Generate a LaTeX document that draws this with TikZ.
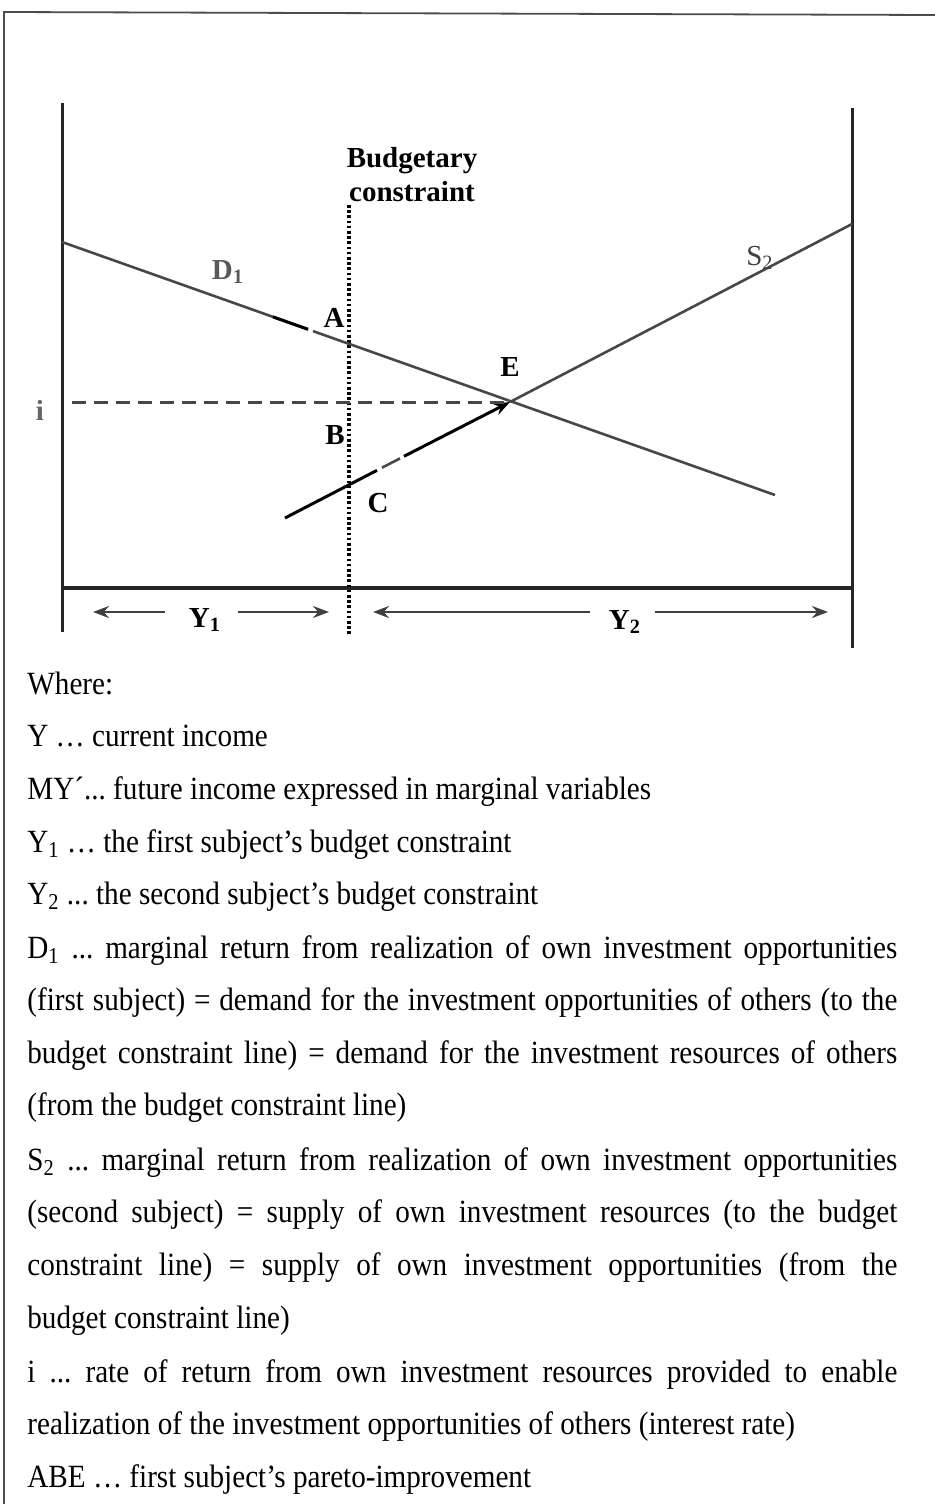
\documentclass[tikz,border=0pt]{standalone}
\usepackage{fontspec}
\setmainfont{Liberation Serif}
\newfontfamily\legendfont{Liberation Serif}[FakeStretch=0.9]
\usepackage{tikz}
\usetikzlibrary{arrows.meta}

\begin{document}
\begin{tikzpicture}[>={Stealth[length=8pt,width=6pt]}, x=0.5pt, y=-0.5pt,
    lab/.style={font=\fontsize{14.5}{17}\selectfont\bfseries, inner sep=0pt},
    legend/.style={anchor=base west, inner sep=0pt, font=\legendfont\fontsize{16.2}{19}\selectfont\frenchspacing},
    axis/.style={line width=1.5pt, draw=black!85},
    curve/.style={line width=1.3pt, draw=black!72},
    sizearrow/.style={->, line width=1.2pt, draw=black!75}]
  \useasboundingbox (0,0) rectangle (935,1504);
  % frame
  \draw[line width=0.9pt, black!70] (935,15) -- (4,12) -- (4,1504);

  % axes and budget line
  \coordinate (L0) at (62,103);  \coordinate (L1) at (62,632);
  \coordinate (R0) at (852,108); \coordinate (R1) at (852,648);
  \coordinate (H0) at (62,588);  \coordinate (H1) at (852,588);
  \coordinate (V0) at (349,205); \coordinate (V1) at (349,635);
  \draw[axis] (L0) -- (L1);
  \draw[axis] (R0) -- (R1);
  \draw[axis, line width=1.7pt] (H0) -- (H1);
  \draw[line width=1.6pt, dash pattern=on 1.3pt off 1.3pt] (V0) -- (V1);
  \node[lab, align=center] (budget) at (412,175) {Budgetary\\constraint};

  % curves
  \coordinate (E) at (510,402);
  \coordinate (D1a) at (62,242);  \coordinate (D1b) at (775,495);
  \coordinate (Dg0) at (308,329.3); \coordinate (Dg1) at (313,331.1);
  \coordinate (Dk) at (273,316.9);
  \coordinate (S2a) at (285,518); \coordinate (S2b) at (852,224);
  \coordinate (Sg0) at (377,470.3); \coordinate (Sg1) at (382,467.7);
  \coordinate (Sg2) at (400,458.4); \coordinate (Sg3) at (404,456.3);
  \draw[curve] (D1a) -- (Dg0);
  \draw[curve] (Dg1) -- (D1b);
  \draw[line width=1.5pt] (Dk) -- (Dg0);
  \draw[line width=1.5pt] (S2a) -- (Sg0);
  \draw[curve] (Sg1) -- (Sg2);
  \draw[line width=1.5pt, ->] (Sg3) -- (E);
  \draw[curve] (E) -- (S2b);
  \coordinate (I0) at (72,402);
  \draw[curve, line width=1.5pt, dash pattern=on 7pt off 4pt] (I0) -- (E);

  % labels
  \node[lab, text=black!60] (i) at (40,410) {i};
  \node[lab, text=black!65] (D1) at (228,272) {D\textsubscript{1}};
  \node[lab, font=\fontsize{14.5}{17}\selectfont, text=black!75] (S2) at (760,258) {S\textsubscript{2}};
  \node[lab] (A) at (334,318) {A};
  \node[lab] (B) at (335,435) {B};
  \node[lab] (C) at (378,503) {C};
  \node[lab] (Elab) at (510,367) {E};

  % income ranges
  \node[lab] (Y1) at (205,620) {Y\textsubscript{1}};
  \node[lab] (Y2) at (625,622) {Y\textsubscript{2}};
  \coordinate (Y1l) at (93,612);  \coordinate (Y1r) at (329,612);
  \coordinate (Y2l) at (373,612); \coordinate (Y2r) at (828,612);
  \draw[sizearrow] (Y1) ++(-40,-8) coordinate (y1a) -- (Y1l);
  \draw[sizearrow] (Y1) ++(33,-8) coordinate (y1b) -- (Y1r);
  \draw[sizearrow] (Y2) ++(-35,-10) coordinate (y2a) -- (Y2l);
  \draw[sizearrow] (Y2) ++(30,-10) coordinate (y2b) -- (Y2r);

  % legend
  \node[legend] (where) at (27,694) {Where:};
  \node[legend] (lY) at (27,746) {Y … current income};
  \node[legend] (lMY) at (27,799) {MY´... future income expressed in marginal variables};
  \node[legend] (lY1) at (27,852) {Y\textsubscript{1} … the first subject’s budget constraint};
  \node[legend] (lY2) at (27,904) {Y\textsubscript{2} ... the second subject’s budget constraint};
  \node[legend] (lD1a) at (27,958) {\makebox[435pt][s]{D\textsubscript{1} ... marginal return from realization of own investment opportunities}};
  \node[legend] (lD1b) at (27,1010) {\makebox[435pt][s]{(first subject) = demand for the investment opportunities of others (to the}};
  \node[legend] (lD1c) at (27,1063) {\makebox[435pt][s]{budget constraint line) = demand for the investment resources of others}};
  \node[legend] (lD1d) at (27,1115) {(from the budget constraint line)};
  \node[legend] (lS2a) at (27,1170) {\makebox[435pt][s]{S\textsubscript{2} ... marginal return from realization of own investment opportunities}};
  \node[legend] (lS2b) at (27,1222) {\makebox[435pt][s]{(second subject) = supply of own investment resources (to the budget}};
  \node[legend] (lS2c) at (27,1275) {\makebox[435pt][s]{constraint line) = supply of own investment opportunities (from the}};
  \node[legend] (lS2d) at (27,1328) {budget constraint line)};
  \node[legend] (li) at (27,1382) {\makebox[435pt][s]{i ... rate of return from own investment resources provided to enable}};
  \node[legend] (li2) at (27,1434) {realization of the investment opportunities of others (interest rate)};
  \node[legend] (lABE) at (27,1487) {ABE … first subject’s pareto-improvement};
\end{tikzpicture}
\end{document}
